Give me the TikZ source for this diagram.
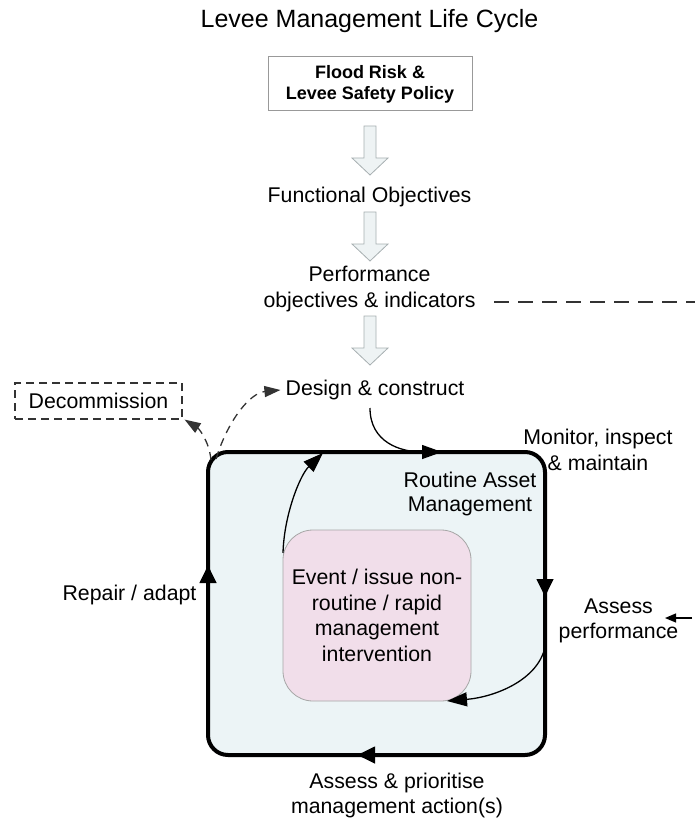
\documentclass[tikz,border=0pt]{standalone}
\usepackage{fontspec}
\setmainfont{Liberation Sans}
\usetikzlibrary{arrows.meta}

\definecolor{arrowfill}{HTML}{EEF3F4}
\definecolor{arrowdraw}{HTML}{A7AFB1}
\definecolor{cyclefill}{HTML}{ECF4F6}
\definecolor{eventfill}{HTML}{F1DEEA}
\definecolor{dashgray}{HTML}{333333}

\newcommand{\bodysize}{\fontsize{21.3}{25.5}\selectfont}

\begin{document}
\begin{tikzpicture}[x=1pt, y=-1pt,
  lbl/.style={inner sep=0pt, align=center, font=\bodysize},
  hollowarrow/.style={draw=arrowdraw, fill=arrowfill, line width=0.8pt},
  cycleedge/.style={line width=4pt, -{Triangle[length=18pt,width=16pt]}},
  flow/.style={line width=1.3pt, -{Triangle[length=20pt,width=14pt]}},
  dashflow/.style={dashgray, line width=1.3pt, dash pattern=on 8pt off 6pt, -{Triangle[length=16pt,width=11pt]}},
  dashline/.style={dashgray, line width=1.2pt, dash pattern=on 15pt off 9pt},
  smallarrow/.style={line width=1.2pt, -{Triangle[length=11pt,width=9pt]}}]

  % Frame of the picture
  \useasboundingbox (0,0) rectangle (695,818);

  % 1. Title and policy chain
  \node[lbl, font=\fontsize{25}{30}\selectfont] (title) at (369.5,21) {Levee Management Life Cycle};
  \node[draw=gray!80, line width=1pt, minimum width=204pt, minimum height=54pt, inner sep=0pt,
        align=center, font=\fontsize{18}{21}\selectfont\bfseries] (policy) at (370,84) {Flood Risk \&\\Levee Safety Policy};
  \node[lbl] (func) at (369.5,197) {Functional Objectives};
  \node[lbl] (perf) at (369.5,289) {Performance\\objectives \& indicators};
  \node[lbl] (design) at (375,390) {Design \& construct};

  % Hollow block arrows between the stages
  \foreach \y in {126,212,316}
    \draw[hollowarrow] (364,\y) -- (376,\y) -- (376,\y+32) -- (388,\y+32) -- (370,\y+49)
      -- (352,\y+32) -- (364,\y+32) -- cycle;

  % Dashed line out to the right edge
  \coordinate (dashstart) at (494,302);
  \coordinate (dashend) at (695,302);
  \draw[dashline] (dashstart) -- (dashend);

  % 2. Decommission box
  \node[draw=dashgray, line width=1.2pt, dash pattern=on 8pt off 5pt, minimum width=167pt, minimum height=36pt,
        inner sep=0pt, font=\bodysize] (decom) at (98.5,401) {Decommission};

  % 3. Routine asset management cycle
  \node[draw, line width=4pt, outer sep=0pt, rounded corners=20pt, fill=cyclefill,
        minimum width=337pt, minimum height=303pt, inner sep=0pt] (ram) at (376.5,603.5) {};
  \node[lbl, font=\fontsize{21.3}{23.5}\selectfont] (ramtext) at (470,494) {Routine Asset\\Management};

  % Event box inside the cycle
  \node[draw=gray!70, line width=0.8pt, rounded corners=30pt, fill=eventfill, outer sep=0pt,
        minimum width=188pt, minimum height=171pt, inner sep=0pt, align=center, font=\bodysize]
        (event) at (377,615.5) {Event / issue non-\\routine / rapid\\management\\intervention};

  % Labels round the cycle
  \node[lbl] (monitor) at (598,450) {Monitor, inspect\\\& maintain};
  \node[lbl] (assess) at (618.5,621) {Assess\\performance};
  \node[lbl] (repair) at (129.5,595) {Repair / adapt};
  \node[lbl] (prior) at (397,795.5) {Assess \& prioritise\\management action(s)};

  % 4. Direction marks on the cycle
  \draw[cycleedge] ([yshift=31.5pt]ram.east) -- ([yshift=6.5pt]ram.east);
  \draw[cycleedge] ([xshift=5.5pt]ram.south) -- ([xshift=-19.5pt]ram.south);
  \draw[cycleedge] ([yshift=13.5pt]ram.west) -- ([yshift=38.5pt]ram.west);

  % Curved flows
  \coordinate (designout) at (370,408);
  \coordinate (topin) at (442,452);
  \coordinate (uptip) at (323,453);
  \coordinate (rightout) at (545,647);
  \draw[flow] (designout) .. controls (370,442) and (400,452) .. (topin);
  \draw[flow] ([yshift=-23pt]event.north west) .. controls (284,515) and (300,475) .. (uptip);
  \draw[flow] (rightout) .. controls (538,680) and (495,697) .. ([xshift=-24pt]event.south east);

  % Dashed flows from the corner
  \coordinate (cornerA) at (216,459);
  \coordinate (cornerB) at (211,460);
  \draw[dashflow] (cornerA) .. controls (228,420) and (250,393) .. ([xshift=-5pt]design.west);
  \draw[dashflow] (cornerB) .. controls (209,440) and (198,428) .. ([xshift=2pt]decom.south east);

  % Incoming arrow at assess performance
  \coordinate (perfin) at (692,618);
  \coordinate (perftip) at (665,618);
  \draw[smallarrow] (perfin) -- (perftip);
\end{tikzpicture}
\end{document}
